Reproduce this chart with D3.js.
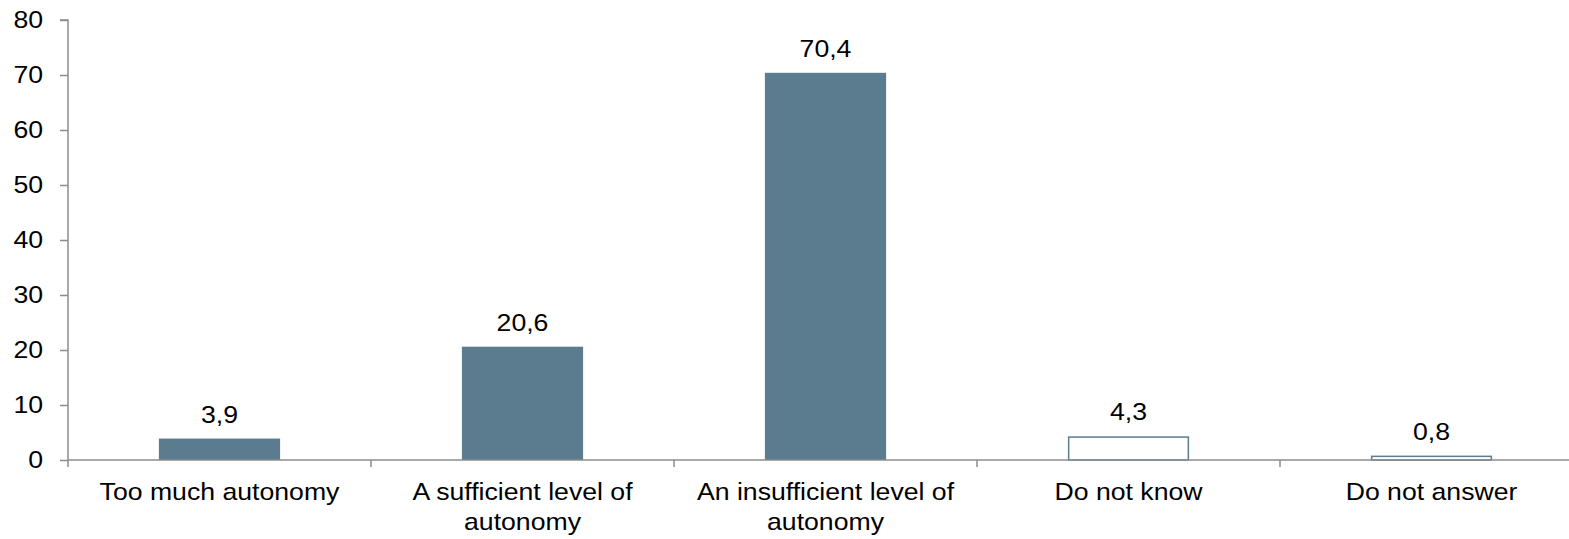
<!DOCTYPE html>
<html><head><meta charset="utf-8">
<script src="https://cdn.jsdelivr.net/npm/d3@7/dist/d3.min.js"></script>
<style>
html,body{margin:0;padding:0;background:#fff;}
svg text{font-family:"Liberation Sans",Arial,sans-serif;fill:#000;}
</style></head>
<body>
<svg id="chart" width="1569" height="539"></svg>
<script>
const categories = [
  ["Too much autonomy"],
  ["A sufficient level of", "autonomy"],
  ["An insufficient level of", "autonomy"],
  ["Do not know"],
  ["Do not answer"]
];
const values = [3.9, 20.6, 70.4, 4.3, 0.8];
const labels = ["3,9", "20,6", "70,4", "4,3", "0,8"];
const outlined = [false, false, false, true, true];
const yTicks = [0, 10, 20, 30, 40, 50, 60, 70, 80];

const svg = d3.select("#chart");
const mLeft = 68, mRight = 1583, mTop = 20, mBottom = 460;
const color = "#5b7c8f", axisColor = "#8c8c8c";
const fs = 24, sx = 1.11;

const keys = categories.map((c, i) => i);
const x = d3.scaleBand().domain(keys).range([mLeft, mRight]).paddingInner(0.6).paddingOuter(0.3);
const y = d3.scaleLinear().domain([0, 80]).range([mBottom, mTop]);
const step = x.step();

// y axis
const yAxis = d3.axisLeft(y).tickValues(yTicks).tickSize(8).tickPadding(16).tickFormat(d3.format("d"));
const gy = svg.append("g").attr("transform", `translate(${mLeft},0)`).call(yAxis);
gy.select(".domain").attr("stroke", axisColor).attr("stroke-width", 1.5).attr("d", `M-8,${y(80)}H0V${y(0)}`);
gy.selectAll(".tick line").attr("stroke", axisColor).attr("stroke-width", 1.5);
gy.selectAll(".tick text").attr("font-size", fs).attr("font-family", '"Liberation Sans",Arial,sans-serif')
  .attr("fill", "#000").attr("x", -25 / sx).attr("transform", `scale(${sx},1)`);

// bars
svg.append("g").selectAll("rect").data(keys).join("rect")
  .attr("x", i => x(i) + (outlined[i] ? 0.75 : 0))
  .attr("width", i => x.bandwidth() - (outlined[i] ? 1.5 : 0))
  .attr("y", i => y(values[i]) + (outlined[i] ? 0.75 : 0))
  .attr("height", i => y(0) - y(values[i]) - (outlined[i] ? 0.75 : 0))
  .attr("fill", i => outlined[i] ? "#fff" : color)
  .attr("stroke", i => outlined[i] ? color : "none")
  .attr("stroke-width", 1.5);

// x axis
const boundaries = keys.map(i => x(i) - step * x.paddingOuter()).concat([mRight]);
const gx = svg.append("g");
gx.append("line").attr("x1", mLeft).attr("x2", mRight).attr("y1", y(0)).attr("y2", y(0))
  .attr("stroke", axisColor).attr("stroke-width", 1.5);
gx.selectAll("line.t").data(boundaries).join("line").attr("class", "t")
  .attr("x1", d => d).attr("x2", d => d).attr("y1", y(0)).attr("y2", y(0) + 7)
  .attr("stroke", axisColor).attr("stroke-width", 1.5);

// value labels
svg.append("g").selectAll("text").data(keys).join("text")
  .attr("transform", i => `translate(${x(i) + x.bandwidth() / 2},${y(values[i]) - 16}) scale(${sx},1)`)
  .attr("text-anchor", "middle").attr("font-size", fs)
  .text(i => labels[i]);

// category labels
const cg = svg.append("g").selectAll("text").data(keys).join("text")
  .attr("text-anchor", "middle").attr("font-size", fs)
  .attr("transform", i => `translate(${x(i) + x.bandwidth() / 2},500) scale(${sx},1)`);
cg.selectAll("tspan").data(i => categories[i]).join("tspan")
  .attr("x", 0).attr("dy", (d, j) => j === 0 ? 0 : 30.5).text(d => d);
</script>
</body></html>
